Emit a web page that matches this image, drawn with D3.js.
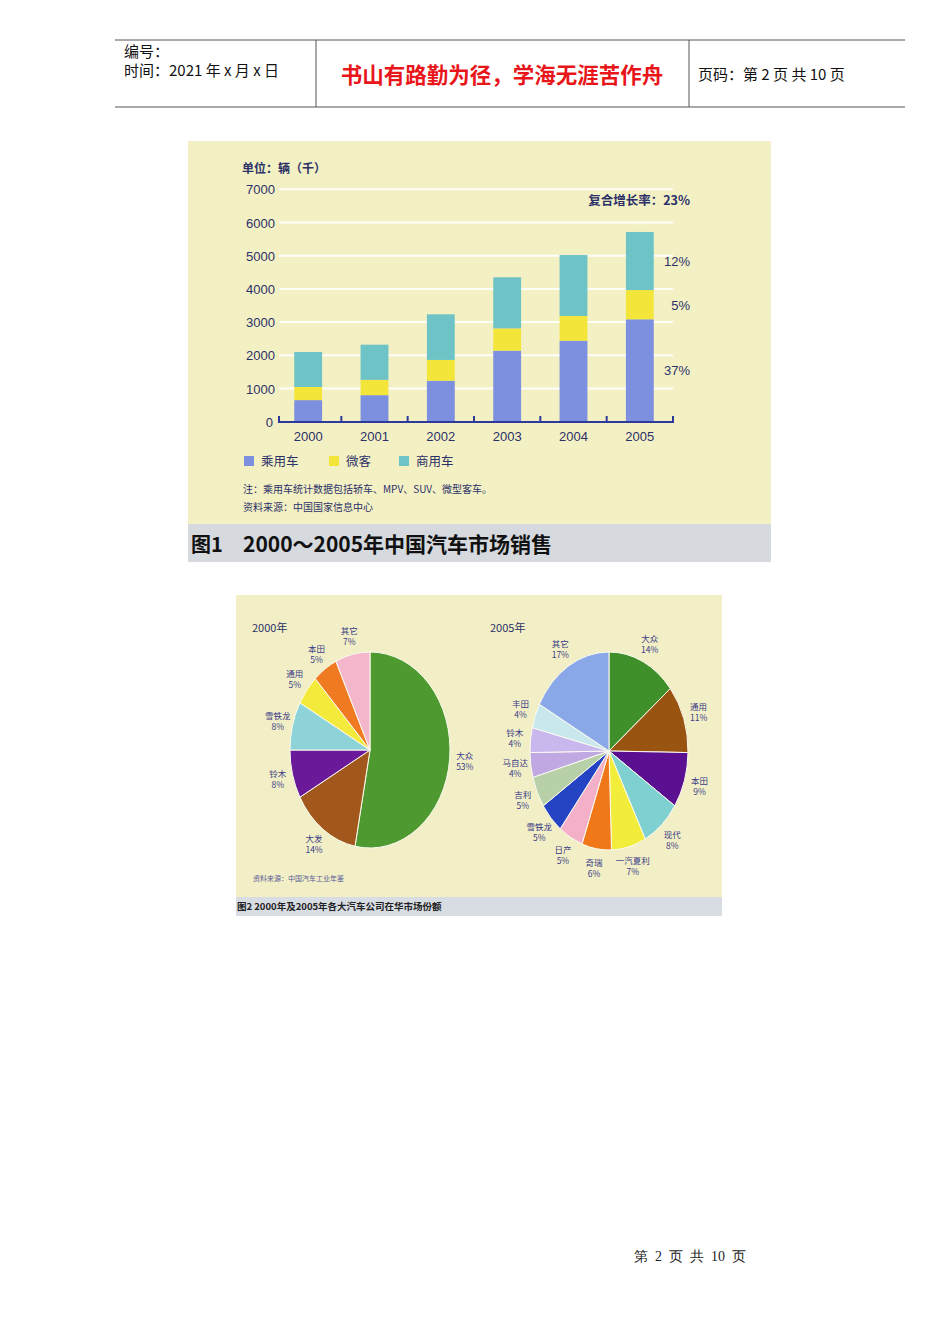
<!DOCTYPE html>
<html><head><meta charset="utf-8">
<script src="https://cdn.jsdelivr.net/npm/d3@7"></script>
<style>
html,body{margin:0;padding:0;background:#fff;}
svg{display:block;font-family:"Noto Sans CJK SC","Noto Sans",sans-serif;}
</style></head>
<body>
<svg id="c" width="950" height="1344"></svg>
<script>
// ---------- data ----------
const years = ["2000","2001","2002","2003","2004","2005"];
const seriesNames = ["乘用车","微客","商用车"];
const passenger = [650, 800, 1235, 2140, 2440, 3085];
const microbus  = [395, 460, 625, 670, 745, 880];
const commercial= [1055, 1060, 1375, 1540, 1835, 1750];
const growthLabels = ["37%","5%","12%"];
const yTicks = [0,1000,2000,3000,4000,5000,6000,7000];

const pie2000Names = ["大众","大发","铃木","雪铁龙","通用","本田","其它"];
const pie2000Values = [53,14,8,8,5,5,7];
const pie2005Names = ["大众","通用","本田","现代","一汽夏利","奇瑞","日产","雪铁龙","吉利","马自达","铃木","丰田","其它"];
const pie2005Values = [14,11,9,8,7,6,5,5,5,4,4,4,17];

// ---------- styles ----------
const seriesColors = ["#7d8fdf","#f3e53a","#6ec3c6"];
const pie2000Colors = ["#4e9a30","#a2581c","#6a1a98","#8ed3d8","#f4ea3c","#f07a22","#f4b6ca"];
const pie2005Colors = ["#3f8f2a","#9a5412","#5a1090","#7fd0d0","#f2ec3a","#f07818","#f4b0c8","#2444c4","#b8d0a8","#c0a8e2","#c8b8ee","#c8e8ee","#8aa8e8"];
const navy = "#2c3168";

const svg = d3.select("#c");

// ---------- header ----------
const hdr = svg.append("g");
hdr.append("line").attr("x1",115).attr("x2",905).attr("y1",40).attr("y2",40).attr("stroke","#555").attr("stroke-width",1);
hdr.append("line").attr("x1",115).attr("x2",905).attr("y1",107).attr("y2",107).attr("stroke","#555").attr("stroke-width",1);
hdr.append("line").attr("x1",316).attr("x2",316).attr("y1",40).attr("y2",107).attr("stroke","#555");
hdr.append("line").attr("x1",689).attr("x2",689).attr("y1",40).attr("y2",107).attr("stroke","#555");
hdr.append("text").attr("x",124).attr("y",57).attr("font-size",15).attr("fill","#111").text("编号：");
hdr.append("text").attr("x",124).attr("y",76).attr("font-size",15).attr("fill","#111").text("时间：2021 年 x 月 x 日");
hdr.append("text").attr("x",502).attr("y",83).attr("text-anchor","middle").attr("font-size",21.5).attr("font-weight","bold").attr("fill","#e8161a").text("书山有路勤为径，学海无涯苦作舟");
hdr.append("text").attr("x",698).attr("y",80).attr("font-size",15).attr("fill","#111").text("页码：第 2 页  共 10 页");

// ---------- figure 1: stacked bars ----------
const f1 = svg.append("g");
f1.append("rect").attr("x",188).attr("y",141).attr("width",583).attr("height",421).attr("fill","#f3f0c4");
f1.append("rect").attr("x",188).attr("y",524).attr("width",583).attr("height",38).attr("fill","#d6dadf");
f1.append("text").attr("x",191).attr("y",552).attr("font-size",20).attr("font-weight","bold").attr("fill","#111").text("图1");
f1.append("text").attr("x",243).attr("y",552).attr("font-size",21).attr("font-weight","bold").attr("fill","#111").text("2000～2005年中国汽车市场销售");

const x = d3.scaleBand().domain(years).range([275,673]).paddingInner(0.58).paddingOuter(0.29);
const y = d3.scaleLinear().domain([0,7000]).range([421.7,189.3]);

// gridlines
f1.append("g").selectAll("line").data(yTicks.slice(1)).join("line")
  .attr("x1",279).attr("x2",673).attr("y1",d=>y(d)).attr("y2",d=>y(d))
  .attr("stroke","#ffffff").attr("stroke-width",2).attr("opacity",0.9);

// y labels
f1.append("g").selectAll("text").data(yTicks).join("text")
  .attr("x",d=>d===0?273:275).attr("y",d=>y(d)+5).attr("text-anchor","end")
  .attr("font-size",13).attr("font-family","Liberation Sans, Arial, sans-serif").attr("fill",navy).text(d=>d);
f1.append("text").attr("x",242).attr("y",173).attr("font-size",12).attr("font-weight","bold").attr("fill",navy).text("单位：辆（千）");

const rows = years.map((yr,i)=>({year:yr, "乘用车":passenger[i], "微客":microbus[i], "商用车":commercial[i]}));
const stack = d3.stack().keys(seriesNames)(rows);
f1.append("g").selectAll("g").data(stack).join("g").attr("fill",(d,i)=>seriesColors[i])
  .selectAll("rect").data(d=>d).join("rect")
  .attr("x",d=>x(d.data.year)).attr("width",x.bandwidth())
  .attr("y",d=>y(d[1])).attr("height",d=>y(d[0])-y(d[1]));

// x axis with ticks at band boundaries
const step = x.step();
const boundaries = years.map((yr)=>x(yr)+x.bandwidth()/2+step/2);
f1.append("line").attr("x1",279).attr("x2",673).attr("y1",422).attr("y2",422).attr("stroke","#2d3a9a").attr("stroke-width",2);
f1.append("g").selectAll("line").data([279].concat(boundaries)).join("line")
  .attr("x1",d=>d).attr("x2",d=>d).attr("y1",423).attr("y2",416).attr("stroke","#2d3a9a").attr("stroke-width",2);
f1.append("g").selectAll("text").data(years).join("text")
  .attr("x",d=>x(d)+x.bandwidth()/2).attr("y",441).attr("text-anchor","middle")
  .attr("font-size",13).attr("font-family","Liberation Sans, Arial, sans-serif").attr("fill",navy).text(d=>d);

// growth labels beside the last bar
const last = stack.map(s=>s[s.length-1]);
f1.append("g").selectAll("text").data(last).join("text")
  .attr("x",690).attr("y",d=>y((d[0]+d[1])/2)+5).attr("text-anchor","end")
  .attr("font-size",13).attr("font-family","Liberation Sans, Arial, sans-serif").attr("fill",navy)
  .text((d,i)=>growthLabels[i]);
f1.append("text").attr("x",690).attr("y",205).attr("text-anchor","end").attr("font-size",12.5).attr("font-weight","bold").attr("fill",navy).text("复合增长率：23%");

// legend
const legX = [244, 329, 399];
const lg = f1.append("g").selectAll("g").data(seriesNames).join("g").attr("transform",(d,i)=>`translate(${legX[i]},456)`);
lg.append("rect").attr("width",10).attr("height",10).attr("fill",(d,i)=>seriesColors[i]);
lg.append("text").attr("x",17).attr("y",10).attr("font-size",12.5).attr("fill",navy).text(d=>d);

f1.append("text").attr("x",243).attr("y",493).attr("font-size",10).attr("fill",navy).text("注：乘用车统计数据包括轿车、MPV、SUV、微型客车。");
f1.append("text").attr("x",243).attr("y",511).attr("font-size",10).attr("fill",navy).text("资料来源：中国国家信息中心");

// ---------- figure 2: pies ----------
const f2 = svg.append("g");
f2.append("rect").attr("x",236).attr("y",595).attr("width",486).attr("height",321).attr("fill","#f2efc6");
f2.append("rect").attr("x",236).attr("y",897).attr("width",486).attr("height",19).attr("fill","#d8dce3");
f2.append("text").attr("x",237).attr("y",910).attr("font-size",9.5).attr("font-weight","bold").attr("fill","#222").text("图2   2000年及2005年各大汽车公司在华市场份额");
f2.append("text").attr("x",253).attr("y",881).attr("font-size",7).attr("fill","#5a5c9a").text("资料来源：中国汽车工业年鉴");
f2.append("text").attr("x",252).attr("y",632).attr("font-size",11).attr("fill",navy).text("2000年");
f2.append("text").attr("x",490).attr("y",632).attr("font-size",11).attr("fill",navy).text("2005年");

function drawPie(names, values, colors, cx, cy, rx, ry, k){
  const pie = d3.pie().sort(null).value(d=>d.v);
  const data = pie(names.map((n,i)=>({n, v:values[i], c:colors[i]})));
  const arc = d3.arc().innerRadius(0).outerRadius(ry);
  const g = f2.append("g").attr("transform",`translate(${cx},${cy}) scale(${rx/ry},1)`);
  g.selectAll("path").data(data).join("path").attr("d",arc).attr("fill",d=>d.data.c)
    .attr("stroke","#fbfbf0").attr("stroke-width",1).attr("vector-effect","non-scaling-stroke");
  const lab = f2.append("g").selectAll("text").data(data).join("text")
    .attr("text-anchor","middle").attr("font-size",8.5).attr("fill","#3a3c86")
    .attr("transform",d=>{const a=(d.startAngle+d.endAngle)/2; return `translate(${cx+rx*k*Math.sin(a)},${cy-ry*k*Math.cos(a)})`;});
  lab.append("tspan").attr("x",0).attr("y",-2).text(d=>d.data.n);
  lab.append("tspan").attr("x",0).attr("y",9).text(d=>d.data.v+"%");
}
drawPie(pie2000Names, pie2000Values, pie2000Colors, 370, 750, 80, 98, 1.19);
drawPie(pie2005Names, pie2005Values, pie2005Colors, 609, 751, 79, 99, 1.2);

// ---------- footer ----------
svg.append("text").attr("x",690).attr("y",1261).attr("text-anchor","middle").attr("font-size",14).attr("fill","#222")
  .attr("font-family","Liberation Serif, serif").attr("xml:space","preserve").text("第  2  页  共  10  页");
</script>
</body></html>
